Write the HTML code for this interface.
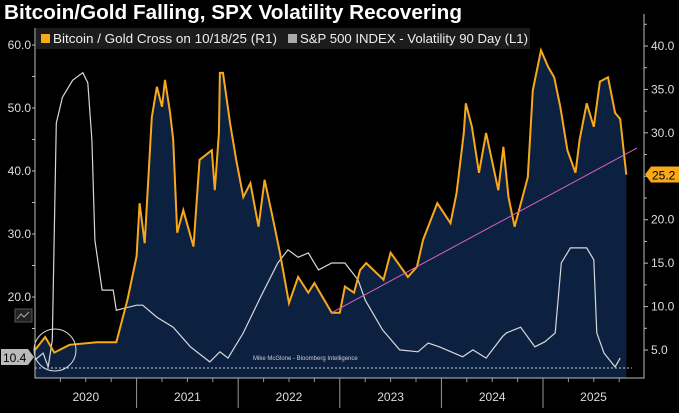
<!DOCTYPE html>
<html><head><meta charset="utf-8"><style>
body{margin:0;background:#000;width:679px;height:408px;overflow:hidden;font-family:"Liberation Sans",sans-serif}
svg text{font-family:"Liberation Sans",sans-serif}
</style></head><body>
<svg id="chart" width="679" height="408">
<text x="4" y="19" fill="#fff" font-size="20" font-weight="bold" textLength="458" lengthAdjust="spacingAndGlyphs">Bitcoin/Gold Falling, SPX Volatility Recovering</text>
<g id="plot"></g>
</svg>
<script>
const btcYears=[2020.0,2020.1,2020.19,2020.34,2020.61,2020.8,2020.91,2021.0,2021.03,2021.08,2021.15,2021.2,2021.25,2021.28,2021.33,2021.36,2021.4,2021.46,2021.56,2021.62,2021.74,2021.77,2021.81,2021.82,2021.85,2021.92,2021.98,2022.05,2022.12,2022.2,2022.26,2022.33,2022.41,2022.5,2022.59,2022.69,2022.75,2022.92,2023.0,2023.05,2023.14,2023.2,2023.26,2023.43,2023.5,2023.67,2023.76,2023.82,2023.96,2024.09,2024.15,2024.22,2024.24,2024.3,2024.37,2024.44,2024.56,2024.61,2024.66,2024.72,2024.85,2024.9,2024.98,2025.05,2025.11,2025.17,2025.24,2025.32,2025.36,2025.43,2025.5,2025.56,2025.64,2025.71,2025.76,2025.82];
const btcVals=[5.0,6.5,4.7,5.6,5.9,5.9,10.8,15.8,21.9,17.3,31.8,35.3,33.0,36.1,32.3,29.2,18.5,21.1,16.9,26.9,28.0,23.4,30.0,36.9,36.9,31.1,26.9,22.6,24.2,19.2,24.6,20.8,16.2,10.4,13.4,11.6,12.7,9.3,9.3,12.3,11.6,14.2,15.0,13.1,16.2,13.4,14.6,17.7,21.9,19.6,23.1,30.0,33.4,30.7,25.4,30.0,23.4,28.4,22.6,19.2,24.9,34.9,39.5,37.6,36.4,33.0,28.0,25.4,29.2,33.4,30.7,35.9,36.4,32.3,31.6,25.2];
const volYears=[2020.0,2020.08,2020.13,2020.17,2020.21,2020.27,2020.37,2020.47,2020.52,2020.56,2020.59,2020.66,2020.77,2020.8,2021.0,2021.06,2021.2,2021.36,2021.53,2021.72,2021.82,2021.9,2022.05,2022.22,2022.39,2022.49,2022.59,2022.69,2022.79,2022.92,2023.05,2023.18,2023.25,2023.42,2023.59,2023.77,2023.87,2023.98,2024.21,2024.31,2024.44,2024.6,2024.64,2024.78,2024.92,2025.02,2025.12,2025.18,2025.27,2025.43,2025.5,2025.53,2025.6,2025.71,2025.76];
const volVals=[10.0,11.1,8.9,13.2,47.6,51.7,54.4,55.6,54.0,44.9,29.0,21.1,21.1,17.9,18.7,18.7,16.8,15.2,12.1,9.7,11.3,10.3,14.3,20.0,25.4,27.5,26.3,27.0,24.3,25.4,25.4,22.7,19.5,14.8,11.6,11.3,12.7,12.1,10.5,11.6,10.3,13.7,14.3,15.2,12.1,12.9,14.3,25.4,27.8,27.8,25.9,14.3,11.1,8.9,10.3];
const rightTicks=[5,10,15,20,25,30,35,40];
const leftTicks=[20,30,40,50,60];
const yearLabels=["2020","2021","2022","2023","2024","2025"];
const lastBtc=25.2, lastVolLabel=10.4;

const X0=35, YW=101.6, PB=378, PT=28, RX=644;
const xS=t=>X0+(t-2020)*YW;
const yR=v=>46+(40-v)*8.686;
const yL=v=>45+(60-v)*6.3;
const NS='http://www.w3.org/2000/svg';
const g=document.getElementById('plot');
function mk(tag,attrs){const e=document.createElementNS(NS,tag);for(const k in attrs)e.setAttribute(k,attrs[k]);g.appendChild(e);return e;}

let pts=btcYears.map((t,i)=>xS(t).toFixed(1)+','+yR(btcVals[i]).toFixed(1));
let area=mk('path',{d:'M'+xS(btcYears[0])+','+PB+' L'+pts.join(' L')+' L'+xS(btcYears[btcYears.length-1])+','+PB+' Z',fill:'#0c2140'});


let dl=mk('line',{x1:X0,x2:RX-12,y1:368,y2:368,stroke:'#ccc','stroke-width':1,'stroke-dasharray':'2,2'});


let wm=mk('text',{x:253,y:360,fill:'#ccc','font-size':6});wm.textContent='Mike McGlone - Bloomberg Intelligence';


let vl=mk('polyline',{points:volYears.map((t,i)=>xS(t).toFixed(1)+','+yL(volVals[i]).toFixed(1)).join(' '),fill:'none',stroke:'#d8d8d8','stroke-width':1.2});


let bl=mk('polyline',{points:pts.join(' '),fill:'none',stroke:'#f7a81b','stroke-width':2});


let tl=mk('line',{x1:xS(2022.92),y1:yR(9.3),x2:637,y2:148,stroke:'#e05fc0','stroke-width':1});


let ci=mk('circle',{cx:55,cy:350,r:21,fill:'none',stroke:'#ddd','stroke-width':1});


let ax=mk('path',{d:`M${X0},${PT} V${PB} H${RX} V${PT-14}`,fill:'none',stroke:'#bbb','stroke-width':1});


rightTicks.forEach(v=>{
 let t=mk('text',{x:RX+7,y:yR(v)+4,fill:'#ddd','font-size':12});t.textContent=v.toFixed(1);
 
 
 mk('line',{x1:RX,x2:RX+4,y1:yR(v),y2:yR(v),stroke:'#bbb'});
 mk('line',{x1:RX,x2:RX+3,y1:yR(v+2.5),y2:yR(v+2.5),stroke:'#bbb'});
});
leftTicks.forEach(v=>{
 let t=mk('text',{x:X0-4,y:yL(v)+4,fill:'#ddd','font-size':12,'text-anchor':'end'});t.textContent=v.toFixed(1);
 
 
 mk('line',{x1:X0-3,x2:X0,y1:yL(v),y2:yL(v),stroke:'#bbb'});
 mk('line',{x1:X0-3,x2:X0,y1:yL(v-5),y2:yL(v-5),stroke:'#bbb'});
});
yearLabels.forEach((y,i)=>{
 const a=xS(2020+i), b=xS(2021+i);
 if(i>0) mk('line',{x1:a,x2:a,y1:PB,y2:408,stroke:'#999'});
 for(let q=1;q<4;q++) mk('line',{x1:a+q*YW/4,x2:a+q*YW/4,y1:PB,y2:PB+4,stroke:'#999'});
 let t=mk('text',{x:(a+Math.min(b,RX))/2,y:401,fill:'#ddd','font-size':12,'text-anchor':'middle'});t.textContent=y;
 
 
});
let rb=mk('path',{d:`M${RX+1},${yR(lastBtc)} l6,-8 h30 v16 h-30 z`,fill:'#f7a81b'});


let rt=mk('text',{x:RX+8,y:yR(lastBtc)+5,fill:'#000','font-size':12});rt.textContent=lastBtc.toFixed(1);


let lb=mk('path',{d:`M1,349 h27 l6,8 l-6,8 h-27 z`,fill:'#bbb'});


let lt=mk('text',{x:3,y:362,fill:'#000','font-size':12});lt.textContent=lastVolLabel.toFixed(1);


let ic=mk('rect',{x:15,y:309,width:17,height:13,fill:'#222',stroke:'#555'});


mk('polyline',{points:'17,319 21,314 24,317 29,312',fill:'none',stroke:'#aaa'});
let lg=mk('rect',{x:36,y:28,width:494,height:21,fill:'#1c1c1c'});


mk('rect',{x:41,y:34,width:9,height:9,fill:'#f7a81b'});
let l1=mk('text',{x:53,y:43,fill:'#eee','font-size':13,textLength:224,lengthAdjust:'spacingAndGlyphs'});l1.textContent='Bitcoin / Gold Cross on 10/18/25 (R1)';


mk('rect',{x:288,y:34,width:9,height:9,fill:'#aaa'});
let l2=mk('text',{x:300,y:43,fill:'#eee','font-size':13,textLength:228,lengthAdjust:'spacingAndGlyphs'});l2.textContent='S&P 500 INDEX - Volatility 90 Day (L1)';


</script>
</body></html>
